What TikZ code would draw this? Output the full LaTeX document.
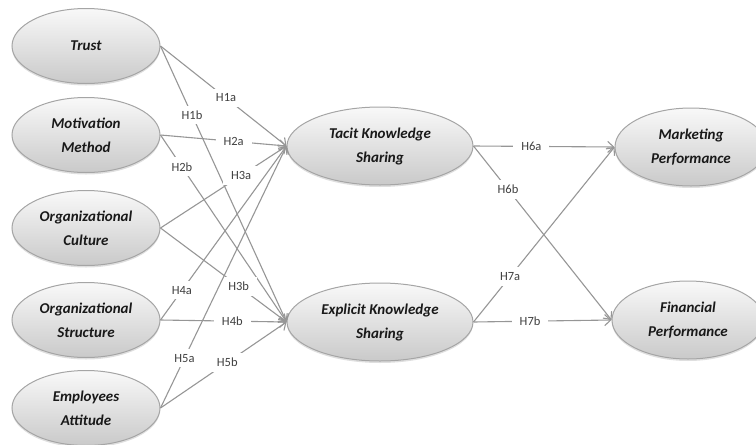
\documentclass[tikz,border=0pt]{standalone}
\usepackage{fontspec}
\setmainfont{Carlito}
\usetikzlibrary{shapes.geometric, arrows.meta, shadows}
\definecolor{linegray}{RGB}{150,150,150}
\definecolor{rimgray}{RGB}{165,165,165}

\begin{document}
\begin{tikzpicture}[x=1pt, y=-1pt,
  cbox/.style={ellipse, draw=rimgray, line width=1pt, top color=gray!5, bottom color=gray!42, align=center, text=black!90, inner sep=1pt, font=\fontsize{15}{24}\selectfont\bfseries\itshape, drop shadow={shadow xshift=0pt, shadow yshift=-2pt, opacity=0.25}},
  srcbox/.style={cbox, minimum width=148pt, minimum height=75pt},
  midbox/.style={cbox, minimum width=186pt, minimum height=78pt},
  outbox/.style={cbox, minimum width=152pt, minimum height=78pt},
  hyp/.style={draw=linegray, line width=1.1pt, -{Straight Barb[length=6pt, width=11pt]}},
  hlab/.style={fill=white, inner xsep=8pt, inner ysep=5pt, font=\fontsize{12.5}{14}\selectfont, text=black!75}
]
  \useasboundingbox (0,0) rectangle (756,445);

  % antecedents
  \node[srcbox] (trust) at (86,46) {Trust};
  \node[srcbox] (motiv) at (86,135) {Motivation\\Method};
  \node[srcbox] (cult) at (86,228) {Organizational\\Culture};
  \node[srcbox] (struct) at (86,320) {Organizational\\Structure};
  \node[srcbox] (attit) at (86,408) {Employees\\Attitude};

  % knowledge sharing
  \node[midbox] (tacit) at (380,146) {Tacit Knowledge\\Sharing};
  \node[midbox] (expl) at (380,322) {Explicit Knowledge\\Sharing};

  % outcomes
  \node[outbox] (mark) at (691,147) {Marketing\\Performance};
  \node[outbox] (fin) at (688,320) {Financial\\Performance};

  % hypotheses
  \draw[hyp] (trust.east) -- node[hlab, pos=0.52] (h1a) {H1a} (tacit.west);
  \draw[hyp] (trust.east) -- node[hlab, pos=0.25] (h1b) {H1b} (expl.west);
  \draw[hyp] (motiv.east) -- node[hlab, pos=0.58] (h2a) {H2a} (tacit.west);
  \draw[hyp] (motiv.east) -- node[hlab, pos=0.17] (h2b) {H2b} (expl.west);
  \draw[hyp] (cult.east) -- node[hlab, pos=0.64] (h3a) {H3a} (tacit.west);
  \draw[hyp] (cult.east) -- node[hlab, pos=0.62] (h3b) {H3b} (expl.west);
  \draw[hyp] (struct.east) -- node[hlab, pos=0.17] (h4a) {H4a} (tacit.west);
  \draw[hyp] (struct.east) -- node[hlab, pos=0.57] (h4b) {H4b} (expl.west);
  \draw[hyp] (attit.east) -- node[hlab, pos=0.19] (h5a) {H5a} (tacit.west);
  \draw[hyp] (attit.east) -- node[hlab, pos=0.53] (h5b) {H5b} (expl.west);
  \draw[hyp] (tacit.east) -- node[hlab, pos=0.41] (h6a) {H6a} (mark.west);
  \draw[hyp] (tacit.east) -- node[hlab, pos=0.25] (h6b) {H6b} (fin.west);
  \draw[hyp] (expl.east) -- node[hlab, pos=0.26] (h7a) {H7a} (mark.west);
  \draw[hyp] (expl.east) -- node[hlab, pos=0.41] (h7b) {H7b} (fin.west);
\end{tikzpicture}
\end{document}
